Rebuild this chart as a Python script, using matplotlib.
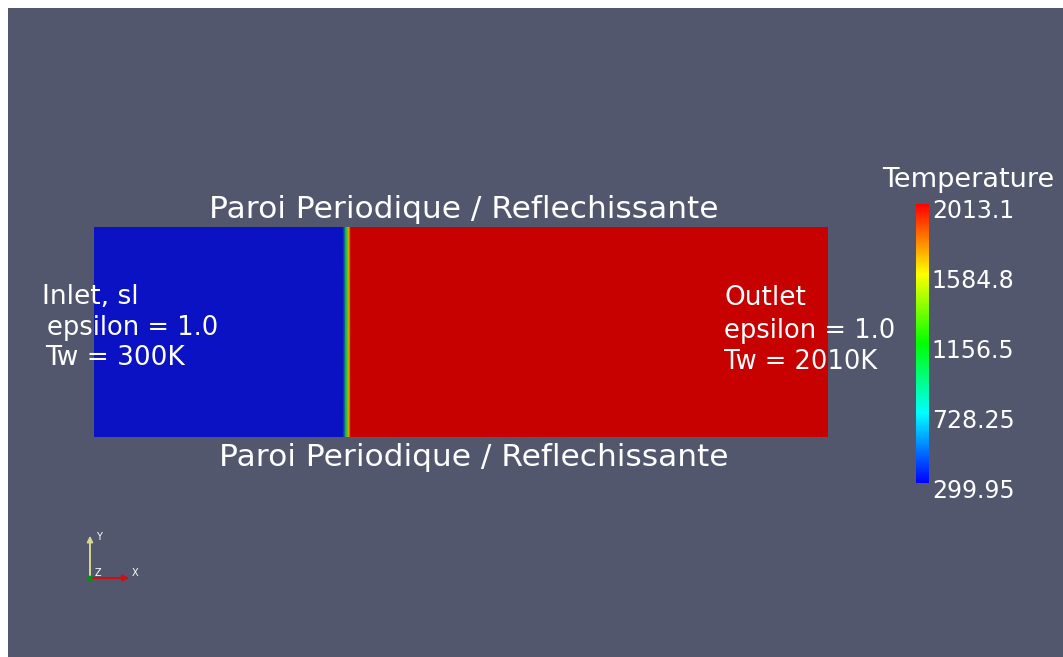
import matplotlib
matplotlib.use("Agg")
import matplotlib.pyplot as plt
import matplotlib.transforms as mtransforms
import numpy as np
from matplotlib.colors import LinearSegmentedColormap, Normalize

# profil de temperature le long du canal (x normalise 0..1)
x_pos = [0.0, 0.339, 0.343, 0.347, 0.350, 1.0]
temp = [299.95, 299.95, 1000.0, 1600.0, 2013.1, 2013.1]

t_min, t_max = 299.95, 2013.1
cb_ticks = [299.95, 728.25, 1156.5, 1584.8, 2013.1]
cb_labels = ["299.95", "728.25", "1156.5", "1584.8", "2013.1"]

W, H = 1063, 657
bg = "#52576e"
font = "DejaVu Sans"

# rainbow bleu -> rouge (comme paraview)
rainbow = ["#0000ff", "#00ffff", "#00ff00", "#ffff00", "#ff0000"]
cmap = LinearSegmentedColormap.from_list("rainbow", rainbow)
# version assombrie pour le domaine (eclairage)
dark = [(0.04, 0.07, 0.77), (0.0, 0.72, 0.75), (0.0, 0.75, 0.1), (0.78, 0.75, 0.0), (0.78, 0.0, 0.0)]
cmap_dark = LinearSegmentedColormap.from_list("rainbow_dark", dark)
norm = Normalize(t_min, t_max)

fig = plt.figure(figsize=(W / 100, H / 100), dpi=100, facecolor="white")

def box(x0, y0, x1, y1):
    return [x0 / W, 1 - y1 / H, (x1 - x0) / W, (y1 - y0) / H]

def txt(x, y, s, **kw):
    fig.text(x / W, 1 - y / H, s, color="white", family=font, **kw)

# fond gris
ax_bg = fig.add_axes(box(8, 8, W, H))
ax_bg.set_facecolor(bg)
ax_bg.set_xticks([])
ax_bg.set_yticks([])
for s in ax_bg.spines.values():
    s.set_visible(False)

# domaine
ax = fig.add_axes(box(94, 227, 828, 437))
X, Y = np.meshgrid(x_pos, [0.0, 1.0])
C = np.vstack([temp, temp])
ax.pcolormesh(X, Y, C, cmap=cmap_dark, norm=norm, shading="gouraud")
ax.set_xlim(0, 1)
ax.set_ylim(0, 1)
ax.axis("off")

# barre de couleur
cax = fig.add_axes(box(916, 204, 929, 483))
sm = plt.cm.ScalarMappable(norm=norm, cmap=cmap)
cb = fig.colorbar(sm, cax=cax, ticks=cb_ticks)
cb.outline.set_visible(False)
cb.ax.tick_params(length=0, pad=2, labelsize=17, colors="white")
cb.ax.set_yticklabels(cb_labels, family=font)
shift = mtransforms.ScaledTranslation(0, -5 / 100, fig.dpi_scale_trans)
for lab in cb.ax.get_yticklabels():
    lab.set_transform(lab.get_transform() + shift)
txt(968, 180, "Temperature", fontsize=19.5, ha="center", va="center")

# annotations
txt(464, 209, "Paroi Periodique / Reflechissante", fontsize=22.5, ha="center", va="center")
txt(474, 458, "Paroi Periodique / Reflechissante", fontsize=22.5, ha="center", va="center")
txt(42, 297, "Inlet, sl", fontsize=19, va="center")
txt(47, 328, "epsilon = 1.0", fontsize=18.5, va="center")
txt(45, 358, "Tw = 300K", fontsize=19, va="center")
txt(724, 298, "Outlet", fontsize=19, va="center")
txt(724, 331, "epsilon = 1.0", fontsize=18.5, va="center")
txt(724, 362, "Tw = 2010K", fontsize=18.5, va="center")

# triedre
ax_tr = fig.add_axes([0, 0, 1, 1], facecolor="none")
ax_tr.set_xlim(0, W)
ax_tr.set_ylim(H, 0)
ax_tr.axis("off")
ax_tr.annotate("", xy=(90, 533), xytext=(90, 578),
               arrowprops=dict(arrowstyle="-|>", color="#d8d890", lw=1.2, mutation_scale=9))
ax_tr.plot([90, 90], [540, 578], color="#d8d890", lw=1.2)
ax_tr.annotate("", xy=(132, 578), xytext=(90, 578),
               arrowprops=dict(arrowstyle="-|>", color="#d01010", lw=1.5, mutation_scale=9))
ax_tr.plot(90, 578, "o", color="#0a8a20", ms=4)
ax_tr.text(96, 537, "Y", color="white", fontsize=7, va="center", family=font)
ax_tr.text(95, 573, "Z", color="white", fontsize=7, va="center", family=font)
ax_tr.text(132, 573, "X", color="white", fontsize=7, va="center", family=font)

fig.savefig("out.png", dpi=100, facecolor="white")
